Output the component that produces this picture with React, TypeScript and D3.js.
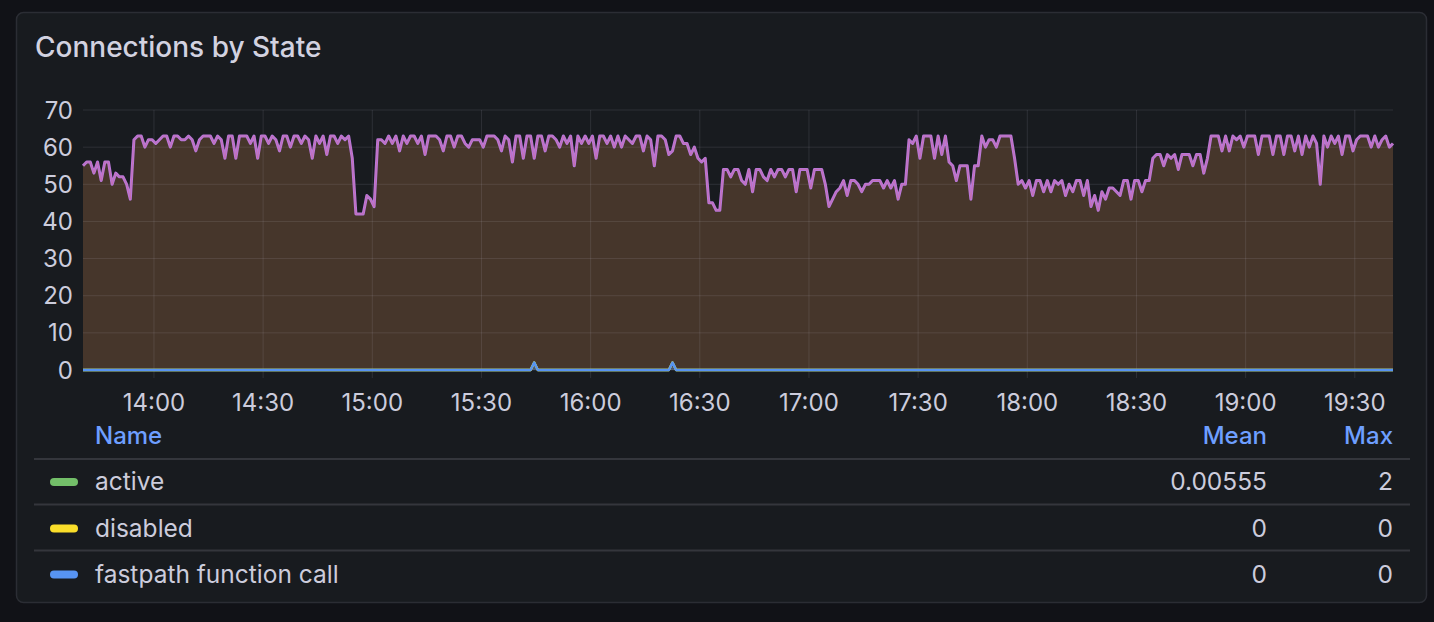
import * as d3 from "d3";

// panel geometry
const W = 1434;
const H = 622;
const PLOT = { left: 83, right: 1393, top: 110, bottom: 370 };
const FONT = "Inter, 'Noto Sans', Roboto, sans-serif";

// time window, one sample per minute
const START = new Date(2024, 0, 15, 13, 40, 30);
const END = new Date(2024, 0, 15, 19, 40, 30);

// upper series (purple line over brown fill)
const idleSeries = [
  55, 56, 56, 53, 56, 51, 56, 56, 50, 53,
  52, 52, 50, 46, 62, 63, 63, 60, 62, 62,
  61, 62, 63, 63, 60, 63, 63, 62, 62, 63,
  62, 59, 62, 63, 63, 63, 61, 63, 62, 57,
  63, 63, 57, 63, 63, 63, 61, 63, 57, 63,
  63, 61, 63, 62, 59, 63, 63, 60, 63, 63,
  61, 63, 62, 57, 63, 61, 63, 58, 63, 63,
  61, 63, 62, 63, 57, 42, 42, 42, 47, 46,
  44, 62, 62, 61, 63, 61, 63, 59, 63, 61,
  63, 63, 61, 63, 58, 63, 63, 63, 62, 59,
  63, 63, 60, 63, 63, 61, 60, 62, 62, 62,
  60, 63, 63, 63, 62, 59, 63, 62, 56, 63,
  63, 57, 63, 63, 57, 63, 63, 59, 63, 63,
  62, 60, 63, 61, 63, 55, 63, 61, 63, 61,
  63, 57, 63, 63, 61, 63, 60, 63, 60, 63,
  62, 61, 63, 63, 59, 63, 62, 55, 63, 63,
  62, 58, 59, 63, 63, 61, 61, 58, 60, 57,
  56, 57, 45, 45, 43, 43, 54, 54, 52, 54,
  54, 51, 50, 54, 48, 54, 54, 52, 51, 54,
  52, 54, 54, 52, 54, 54, 48, 54, 54, 54,
  49, 54, 54, 54, 50, 44, 46, 48, 49, 51,
  47, 51, 51, 50, 48, 50, 50, 51, 51, 51,
  49, 51, 49, 51, 46, 50, 50, 62, 61, 63,
  57, 63, 63, 63, 57, 63, 58, 63, 56, 55,
  51, 55, 55, 55, 46, 55, 55, 63, 60, 62,
  62, 60, 63, 63, 63, 63, 57, 50, 51, 49,
  51, 47, 51, 51, 48, 51, 48, 51, 50, 51,
  47, 50, 48, 51, 51, 47, 51, 44, 47, 43,
  48, 46, 49, 49, 48, 47, 51, 51, 46, 51,
  51, 48, 51, 51, 57, 58, 58, 55, 58, 57,
  58, 54, 58, 58, 58, 55, 58, 58, 53, 57,
  63, 63, 63, 59, 63, 59, 63, 62, 63, 60,
  63, 63, 63, 58, 63, 63, 63, 58, 63, 63,
  58, 63, 63, 59, 63, 58, 63, 60, 63, 61,
  50, 63, 60, 63, 61, 63, 58, 63, 63, 59,
  62, 63, 63, 63, 60, 63, 60, 62, 63, 60,
  61,
];

// the "active" series is zero except two small spikes
const activeSpikeMinutes = [124, 162];
const activeSpikeValues = [2, 2];

const yTicks = [0, 10, 20, 30, 40, 50, 60, 70];

const legendNames = ["active", "disabled", "fastpath function call"];
const legendColors = ["#73BF69", "#FADE2A", "#5794F2"];
const legendMean = ["0.00555", "0", "0"];
const legendMax = ["2", "0", "0"];

type Pt = { t: Date; v: number };

export default function App() {
  const x = d3.scaleTime().domain([START, END]).range([PLOT.left, PLOT.right]);
  const y = d3.scaleLinear().domain([0, 70]).range([PLOT.bottom, PLOT.top]);

  const timeAt = (i: number) => d3.timeMinute.offset(START, i);

  const idlePts: Pt[] = idleSeries.map((v, i) => ({ t: timeAt(i), v }));
  const activePts: Pt[] = idleSeries.map((_, i) => {
    const k = activeSpikeMinutes.indexOf(i);
    return { t: timeAt(i), v: k >= 0 ? activeSpikeValues[k] : 0 };
  });
  // disabled and fastpath are zero, stacked on top of active
  const stacked = [activePts, activePts, activePts];

  const line = d3
    .line<Pt>()
    .x((d) => x(d.t))
    .y((d) => y(d.v));
  const area = d3
    .area<Pt>()
    .x((d) => x(d.t))
    .y0(y(0))
    .y1((d) => y(d.v));

  const xTicks = x.ticks(d3.timeMinute.every(30)!);
  const fmt = d3.timeFormat("%H:%M");

  const gridColor = "rgba(204,204,220,0.12)";
  const rowBaselines = [490, 536.5, 582.5];
  const sepY = [459, 504.5, 550.5];

  return (
    <div
      style={{
        position: "fixed",
        left: 0,
        top: 0,
        width: W,
        height: H,
        background: "#111217",
      }}
    >
      <svg width={W} height={H} style={{ display: "block", fontFamily: FONT }}>
        <rect x={0} y={0} width={W} height={H} fill="#111217" />
        <rect
          x={16.5}
          y={12.5}
          width={1410}
          height={590}
          rx={7}
          fill="#181b1f"
          stroke="#2b2d34"
          strokeWidth={1.5}
        />
        <text x={35} y={57} fill="#d2d2e0" fontSize={28} fontWeight={500}>
          Connections by State
        </text>

        {/* fill under the top series */}
        <path d={area(idlePts) ?? ""} fill="#46362b" />

        {/* grid */}
        {yTicks.map((t) => (
          <line
            key={"gy" + t}
            x1={PLOT.left}
            x2={PLOT.right}
            y1={y(t)}
            y2={y(t)}
            stroke={gridColor}
            strokeWidth={1}
          />
        ))}
        {xTicks.map((t, i) => (
          <line
            key={"gx" + i}
            x1={x(t)}
            x2={x(t)}
            y1={PLOT.top}
            y2={PLOT.bottom + 8}
            stroke={gridColor}
            strokeWidth={1}
          />
        ))}

        {/* axes labels */}
        {yTicks.map((t) => (
          <text
            key={"ly" + t}
            x={73}
            y={y(t) + 8.5}
            textAnchor="end"
            fill="#ccccdc"
            fontSize={24}
          >
            {t}
          </text>
        ))}
        {xTicks.map((t, i) => (
          <text
            key={"lx" + i}
            x={x(t)}
            y={411}
            textAnchor="middle"
            fill="#ccccdc"
            fontSize={24}
          >
            {fmt(t)}
          </text>
        ))}

        {/* top series line */}
        <path
          d={line(idlePts) ?? ""}
          fill="none"
          stroke="#B877D9"
          strokeWidth={3}
          strokeLinejoin="round"
        />
        <path
          d={line(idlePts) ?? ""}
          fill="none"
          stroke="#e0606a"
          strokeOpacity={0.35}
          strokeWidth={0.9}
        />

        {/* bottom stacked series */}
        <path d={area(activePts) ?? ""} fill="#5794F2" fillOpacity={0.35} />
        {stacked.map((pts, i) => (
          <path
            key={"s" + i}
            d={line(pts) ?? ""}
            fill="none"
            stroke={legendColors[i]}
            strokeWidth={2.4}
            strokeLinejoin="round"
          />
        ))}

        {/* legend table */}
        <text x={95} y={444} fill="#6E9FFF" fontSize={24} fontWeight={500}>
          Name
        </text>
        <text x={1267} y={444} fill="#6E9FFF" fontSize={24} fontWeight={500} textAnchor="end">
          Mean
        </text>
        <text x={1393} y={444} fill="#6E9FFF" fontSize={24} fontWeight={500} textAnchor="end">
          Max
        </text>
        {sepY.map((sy, i) => (
          <line
            key={"sep" + i}
            x1={34}
            x2={1410}
            y1={sy}
            y2={sy}
            stroke="#34363c"
            strokeWidth={2}
          />
        ))}
        {legendNames.map((name, i) => (
          <g key={name}>
            <rect
              x={50}
              y={rowBaselines[i] - 12}
              width={28}
              height={8}
              rx={4}
              fill={legendColors[i]}
            />
            <text x={95} y={rowBaselines[i]} fill="#ccccdc" fontSize={24.5}>
              {name}
            </text>
            <text x={1267} y={rowBaselines[i]} fill="#ccccdc" fontSize={24.5} textAnchor="end">
              {legendMean[i]}
            </text>
            <text x={1393} y={rowBaselines[i]} fill="#ccccdc" fontSize={24.5} textAnchor="end">
              {legendMax[i]}
            </text>
          </g>
        ))}
      </svg>
    </div>
  );
}
